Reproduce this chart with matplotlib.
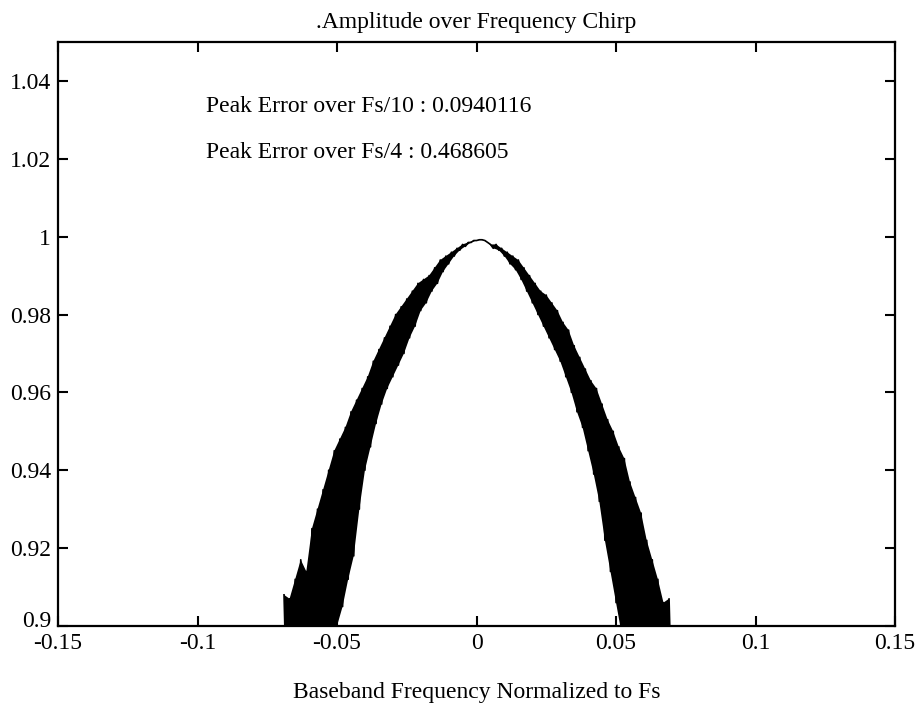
import matplotlib as mpl
import matplotlib.pyplot as plt
from matplotlib.transforms import ScaledTranslation

mpl.rcParams['font.family'] = 'Liberation Serif'

# amplitude ripple: alternating crest / trough samples
freq = [-0.069, -0.068, -0.067, -0.066, -0.065, -0.064, -0.063, -0.062, -0.061, -0.060,
        -0.059, -0.058, -0.057, -0.056, -0.055, -0.054, -0.053, -0.052, -0.051, -0.050,
        -0.049, -0.048, -0.047, -0.046, -0.045, -0.044, -0.043, -0.042, -0.041, -0.040,
        -0.039, -0.038, -0.037, -0.036, -0.035, -0.034, -0.033, -0.032, -0.031, -0.030,
        -0.029, -0.028, -0.027, -0.026, -0.025, -0.024, -0.023, -0.022, -0.021, -0.020,
        -0.019, -0.018, -0.017, -0.016, -0.015, -0.014, -0.013, -0.012, -0.011, -0.010,
        -0.009, -0.008, -0.007, -0.006, -0.005, -0.004, -0.003, -0.002, -0.001, 0.000,
        0.001, 0.002, 0.003, 0.004, 0.005, 0.006, 0.007, 0.008, 0.009, 0.010,
        0.011, 0.012, 0.013, 0.014, 0.015, 0.016, 0.017, 0.018, 0.019, 0.020,
        0.021, 0.022, 0.023, 0.024, 0.025, 0.026, 0.027, 0.028, 0.029, 0.030,
        0.031, 0.032, 0.033, 0.034, 0.035, 0.036, 0.037, 0.038, 0.039, 0.040,
        0.041, 0.042, 0.043, 0.044, 0.045, 0.046, 0.047, 0.048, 0.049, 0.050,
        0.051, 0.052, 0.053, 0.054, 0.055, 0.056, 0.057, 0.058, 0.059, 0.060,
        0.061, 0.062, 0.063, 0.064, 0.065, 0.066, 0.067, 0.068, 0.069, 0.070]
amp = [0.908, 0.880, 0.907, 0.880, 0.912, 0.882, 0.917, 0.884, 0.914, 0.886,
       0.925, 0.888, 0.930, 0.890, 0.935, 0.893, 0.940, 0.896, 0.945, 0.900,
       0.948, 0.905, 0.951, 0.912, 0.955, 0.918, 0.958, 0.930, 0.961, 0.940,
       0.964, 0.946, 0.968, 0.952, 0.971, 0.957, 0.974, 0.961, 0.977, 0.964,
       0.980, 0.967, 0.982, 0.970, 0.984, 0.974, 0.986, 0.977, 0.988, 0.981,
       0.989, 0.983, 0.990, 0.986, 0.992, 0.988, 0.994, 0.991, 0.995, 0.993,
       0.996, 0.995, 0.997, 0.9965, 0.998, 0.9975, 0.9985, 0.9985, 0.999, 0.999,
       0.9992, 0.9992, 0.999, 0.9985, 0.998, 0.997, 0.998, 0.9965, 0.997, 0.995,
       0.996, 0.993, 0.995, 0.9915, 0.994, 0.989, 0.992, 0.986, 0.990, 0.983,
       0.988, 0.980, 0.986, 0.977, 0.985, 0.974, 0.983, 0.971, 0.981, 0.968,
       0.978, 0.964, 0.976, 0.960, 0.972, 0.955, 0.969, 0.951, 0.966, 0.945,
       0.963, 0.939, 0.961, 0.932, 0.957, 0.922, 0.953, 0.914, 0.950, 0.906,
       0.946, 0.898, 0.943, 0.893, 0.937, 0.890, 0.933, 0.887, 0.929, 0.885,
       0.922, 0.883, 0.917, 0.882, 0.912, 0.880, 0.906, 0.880, 0.907, 0.880]

xticks = [-0.15, -0.1, -0.05, 0, 0.05, 0.1, 0.15]
xtick_labels = ['-0.15', '-0.1', '-0.05', '0', '0.05', '0.1', '0.15']
yticks = [0.9, 0.92, 0.94, 0.96, 0.98, 1.0, 1.02, 1.04]
ytick_labels = ['0.9', '0.92', '0.94', '0.96', '0.98', '1', '1.02', '1.04']

peak_notes = ['Peak Error over Fs/10 : 0.0940116',
              'Peak Error over Fs/4 : 0.468605']

fig = plt.figure(figsize=(9.18, 7.09), dpi=100)
ax = fig.add_axes([0.0632, 0.1171, 0.9118, 0.8237])

# the ripple is so dense on the scan that the band prints solid:
# shade between crests (even samples) and troughs (odd samples)
crest_x, crest_y = freq[0::2], amp[0::2]
trough_x, trough_y = freq[1::2], amp[1::2]
ax.fill(crest_x + trough_x[::-1], crest_y + trough_y[::-1],
        color='black', linewidth=0)
ax.plot(freq, amp, color='black', linewidth=1.2)

ax.set_xlim(-0.15, 0.15)
ax.set_ylim(0.9, 1.05)
ax.set_xticks(xticks)
ax.set_xticklabels(xtick_labels)
ax.set_yticks(yticks)
ax.set_yticklabels(ytick_labels)
ax.tick_params(direction='in', length=7, width=1.5, top=True, right=True,
               labelsize=17)
ax.tick_params(axis='x', pad=5)
ax.tick_params(axis='y', pad=5)
for s in ax.spines.values():
    s.set_linewidth(1.6)

# lift the bottom y label a little so it sits above "-0.15" like the scan
lab = ax.get_yticklabels()[0]
lab.set_transform(lab.get_transform() + ScaledTranslation(0, 5 / 72, fig.dpi_scale_trans))

ax.text(-0.097, 1.0335, peak_notes[0], fontsize=17, va='center')
ax.text(-0.097, 1.0215, peak_notes[1], fontsize=17, va='center')

ax.set_title('.Amplitude over Frequency Chirp', fontsize=17, pad=10)
ax.set_xlabel('Baseband Frequency Normalized to Fs', fontsize=17, labelpad=20)

fig.savefig('out.png', dpi=100)
